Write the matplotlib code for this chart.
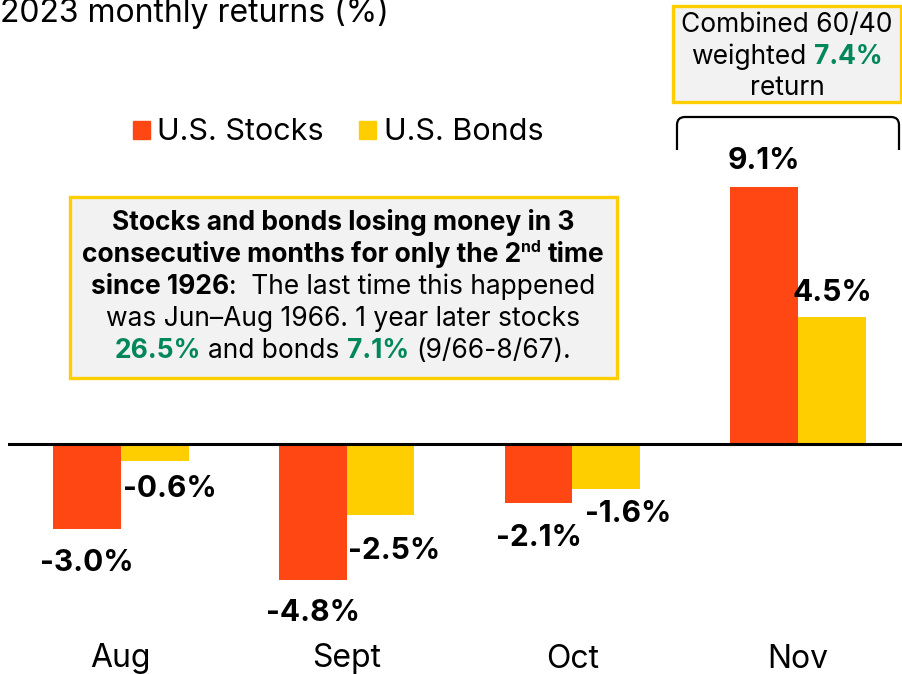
import matplotlib
matplotlib.use("Agg")
import matplotlib.pyplot as plt
from matplotlib.transforms import IdentityTransform
from matplotlib.patches import Rectangle
from matplotlib.path import Path
from matplotlib.patches import PathPatch

# ---------------- data ----------------
months = ["Aug", "Sept", "Oct", "Nov"]
stocks = [-3.0, -4.8, -2.1, 9.1]
bonds = [-0.6, -2.5, -1.6, 4.5]
stock_labels = ["-3.0%", "-4.8%", "-2.1%", "9.1%"]
bond_labels = ["-0.6%", "-2.5%", "-1.6%", "4.5%"]
title = "2023 monthly returns (%)"
series_names = ["U.S. Stocks", "U.S. Bonds"]

# ---------------- style ----------------
W, H = 903, 674
ORANGE = "#FF4713"
YELLOW = "#FFCE00"
GREEN = "#00875A"
BOXBG = "#F2F2F2"
FONT = "Inter"
plt.rcParams["font.family"] = [FONT, "DejaVu Sans"]

fig = plt.figure(figsize=(W / 100, H / 100), dpi=100)
ax = fig.add_axes([8 / W, 0, (W - 8) / W, 1])
ax.set_xlim(-0.5, 3.465)
ppu = 28.24  # pixels per percentage point
ax.set_ylim(-(H - 444) / ppu, 444 / ppu)
ax.axis("off")

x = list(range(len(months)))
bw = 0.3
ax.bar([i - bw / 2 for i in x], stocks, width=bw, color=ORANGE, zorder=2)
ax.bar([i + bw / 2 for i in x], bonds, width=bw, color=YELLOW, zorder=2)
ax.axhline(0, color="black", lw=2.2, zorder=3)

# value labels with offsets (points)
s_off = [(0, -25), (0, -24), (0, -25), (0, 19)]
b_off = [(11, -20), (10, -26), (16, -18), (0, 17)]
for i in x:
    ax.annotate(stock_labels[i], (i - bw / 2, stocks[i]), xytext=s_off[i],
                textcoords="offset points", ha="center", va="center",
                fontsize=21.5, fontweight="bold")
    ax.annotate(bond_labels[i], (i + bw / 2, bonds[i]), xytext=b_off[i],
                textcoords="offset points", ha="center", va="center",
                fontsize=21.5, fontweight="bold")
    ax.text(i, -(659 - 444) / ppu, months[i], ha="center", va="center", fontsize=23)

# ---------------- pixel-space helpers ----------------
T = IdentityTransform()


def py(y):
    return H - y


fig.canvas.draw()
renderer = fig.canvas.get_renderer()


def measure(s, size, weight):
    t = fig.text(0, 0, s, fontsize=size, fontweight=weight, transform=T)
    w = t.get_window_extent(renderer).width
    t.remove()
    return w


def space_w(size, weight):
    return measure("a a", size, weight) - measure("aa", size, weight)


def rich_line(cx, cy, segs, size):
    # segs: list of (text, weight, color, sizefactor, dy)
    pieces = []
    total = 0
    for s, wgt, col, sf, dy in segs:
        sz = size * sf
        lead = len(s) - len(s.lstrip(" "))
        trail = len(s) - len(s.rstrip(" "))
        core = s.strip(" ")
        sw = space_w(sz, wgt)
        total += lead * sw
        w = measure(core, sz, wgt) if core else 0
        pieces.append((total, core, wgt, col, sz, dy))
        total += w + trail * sw
    x0 = cx - total / 2
    for off, core, wgt, col, sz, dy in pieces:
        if core:
            fig.text(x0 + off, py(cy) + dy, core, fontsize=sz, fontweight=wgt,
                     color=col, transform=T, ha="left", va="center")


# title (cut off at the top edge, as in the original)
fig.text(0, py(22), title, fontsize=23, ha="left", va="baseline", transform=T)

# legend
fig.patches.append(Rectangle((133, py(139)), 17, 18, color=ORANGE, transform=T, figure=fig))
fig.text(157, py(132), series_names[0], fontsize=22, va="center", transform=T)
fig.patches.append(Rectangle((359, py(139)), 17, 18, color=YELLOW, transform=T, figure=fig))
fig.text(384, py(132), series_names[1], fontsize=22, va="center", transform=T)

# annotation box
fig.patches.append(Rectangle((70, py(378)), 547, 181, facecolor=BOXBG, edgecolor=YELLOW,
                             lw=2.4, transform=T, figure=fig, zorder=1))
B, N = "bold", "normal"
K = "black"
fs = 19
lines = [
    [("Stocks and bonds losing money in 3", B, K, 1, 0)],
    [("consecutive months for only the 2", B, K, 1, 0), ("nd", B, K, 0.6, 8),
     (" time", B, K, 1, 0)],
    [("since 1926", B, K, 1, 0), (":  The last time this happened", N, K, 1, 0)],
    [("was Jun\u2013Aug 1966. 1 year later stocks", N, K, 1, 0)],
    [("26.5%", B, GREEN, 1, 0), (" and bonds ", N, K, 1, 0), ("7.1%", B, GREEN, 1, 0),
     (" (9/66-8/67).", N, K, 1, 0)],
]
for j, segs in enumerate(lines):
    rich_line(343, 223 + 32 * j, segs, fs)

# combined box
fig.patches.append(Rectangle((673, py(102)), 228, 96, facecolor=BOXBG, edgecolor=YELLOW,
                             lw=2.4, transform=T, figure=fig, zorder=1))
rich_line(787, 25, [("Combined 60/40", N, K, 1, 0)], 19)
rich_line(787, 57, [("weighted ", N, K, 1, 0), ("7.4%", B, GREEN, 1, 0)], 19)
rich_line(787, 88, [("return", N, K, 1, 0)], 19)

# bracket
r = 8
verts = [(677, py(150)), (677, py(117 + r)), (677, py(117)), (677 + r, py(117)),
         (899 - r, py(117)), (899, py(117)), (899, py(117 + r)), (899, py(150))]
codes = [Path.MOVETO, Path.LINETO, Path.CURVE3, Path.CURVE3, Path.LINETO,
         Path.CURVE3, Path.CURVE3, Path.LINETO]
fig.patches.append(PathPatch(Path(verts, codes), fill=False, lw=1.6, edgecolor="black",
                             transform=T, figure=fig))

fig.savefig("out.png", dpi=100)
